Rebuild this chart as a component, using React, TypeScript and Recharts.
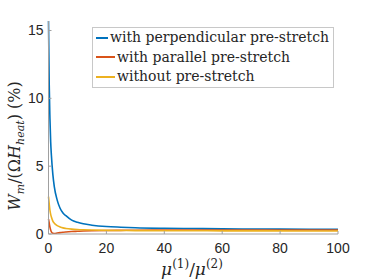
import { LineChart, Line, XAxis, YAxis } from "recharts";

// mu1/mu2 sample points
const ratio = [0, 0.25, 0.5, 0.75, 1, 1.5, 2, 3, 4, 5, 6, 8, 10, 12, 15, 20, 25, 30, 40, 50, 60, 70, 80, 90, 100];
const perpendicular = [15.7, 11, 8.5, 6.8, 5.8, 4.4, 3.5, 2.5, 1.9, 1.55, 1.35, 1.02, 0.86, 0.75, 0.65, 0.55, 0.5, 0.46, 0.42, 0.4, 0.38, 0.37, 0.36, 0.35, 0.34];
const parallel = [1.1, 0.8, 0.5, 0.3, 0.15, 0.05, 0.04, 0.07, 0.1, 0.13, 0.15, 0.18, 0.2, 0.22, 0.24, 0.26, 0.27, 0.28, 0.29, 0.3, 0.3, 0.3, 0.3, 0.3, 0.3];
const without = [2.75, 2.2, 1.75, 1.45, 1.25, 0.95, 0.8, 0.62, 0.52, 0.45, 0.41, 0.36, 0.33, 0.31, 0.29, 0.27, 0.26, 0.25, 0.24, 0.24, 0.23, 0.23, 0.23, 0.22, 0.22];

const xTicks = [0, 20, 40, 60, 80, 100];
const yTicks = [0, 5, 10, 15];

const series = [
  { key: "perp", name: "with perpendicular pre-stretch", color: "#0072BD" },
  { key: "par", name: "with parallel pre-stretch", color: "#D95319" },
  { key: "none", name: "without pre-stretch", color: "#EDB120" },
];

const data = ratio.map((r, i) => ({ r, perp: perpendicular[i], par: parallel[i], none: without[i] }));

const axisColor = "#a0a0a0";
const tickFont = "'Liberation Sans', Arial, sans-serif";
const serif = "'DejaVu Serif', serif";

const YTick = (props: any) => {
  const { x, y, payload } = props;
  return (
    <g>
      <line x1={x} x2={x + 3} y1={y} y2={y} stroke={axisColor} />
      <text x={x - 5} y={y + 5} textAnchor="end" fontSize={14} fill="#262626" fontFamily={tickFont}>
        {payload.value}
      </text>
    </g>
  );
};

const XTick = (props: any) => {
  const { x, y, payload } = props;
  return (
    <g>
      <line x1={x} x2={x} y1={y} y2={y - 3} stroke={axisColor} />
      <text x={x} y={y + 19} textAnchor="middle" fontSize={14} fill="#262626" fontFamily={tickFont}>
        {payload.value}
      </text>
    </g>
  );
};

const LegendBox = () => (
  <div
    style={{
      position: "absolute",
      left: 92,
      top: 27,
      width: 233,
      border: "1px solid #c8c8c8",
      background: "#fff",
      padding: "0px 4px 0px 3px",
      fontFamily: serif,
      fontSize: 14,
      color: "#262626",
      lineHeight: "19.5px",
    }}
  >
    {series.map((s) => (
      <div key={s.key} style={{ display: "flex", alignItems: "center", whiteSpace: "nowrap" }}>
        <span style={{ display: "inline-block", width: 19, height: 2, background: s.color, marginRight: 2 }} />
        {s.name}
      </div>
    ))}
  </div>
);

export default function App() {
  return (
    <div style={{ position: "absolute", left: 0, top: 0, width: 374, height: 280, background: "#fff" }}>
      <LineChart width={374} height={280} data={data} margin={{ top: 21, right: 36, left: 0, bottom: 16 }}>
        <XAxis
          dataKey="r"
          type="number"
          domain={[0, 100]}
          ticks={xTicks}
          stroke={axisColor}
          tickSize={0}
          tickMargin={0}
          tick={<XTick />}
          height={30}
        />
        <YAxis
          type="number"
          domain={[0, 15.7]}
          ticks={yTicks}
          stroke={axisColor}
          tickSize={0}
          tickMargin={0}
          tick={<YTick />}
          width={48.5}
          allowDataOverflow
        />
        {series.map((s) => (
          <Line
            key={s.key}
            dataKey={s.key}
            name={s.name}
            stroke={s.color}
            strokeWidth={1.6}
            dot={false}
            type="monotone"
            isAnimationActive={false}
          />
        ))}
      </LineChart>
      <LegendBox />
      <svg width={374} height={280} style={{ position: "absolute", left: 0, top: 0, pointerEvents: "none" }}>
        <text
          transform="translate(20,146) rotate(-90)"
          textAnchor="middle"
          fontFamily={serif}
          fontSize={16}
          fill="#262626"
        >
          <tspan fontStyle="italic">W</tspan>
          <tspan fontStyle="italic" fontSize={11} dy={4}>m</tspan>
          <tspan dy={-4}>/(Ω</tspan>
          <tspan fontStyle="italic">H</tspan>
          <tspan fontStyle="italic" fontSize={11} dy={4}>heat</tspan>
          <tspan dy={-4}>) (%)</tspan>
        </text>
        <text x={192} y={275} textAnchor="middle" fontFamily={serif} fontSize={17} fill="#262626">
          <tspan fontStyle="italic">μ</tspan>
          <tspan fontSize={12} dy={-7}>(1)</tspan>
          <tspan dy={7}>/</tspan>
          <tspan fontStyle="italic">μ</tspan>
          <tspan fontSize={12} dy={-7}>(2)</tspan>
        </text>
      </svg>
    </div>
  );
}
